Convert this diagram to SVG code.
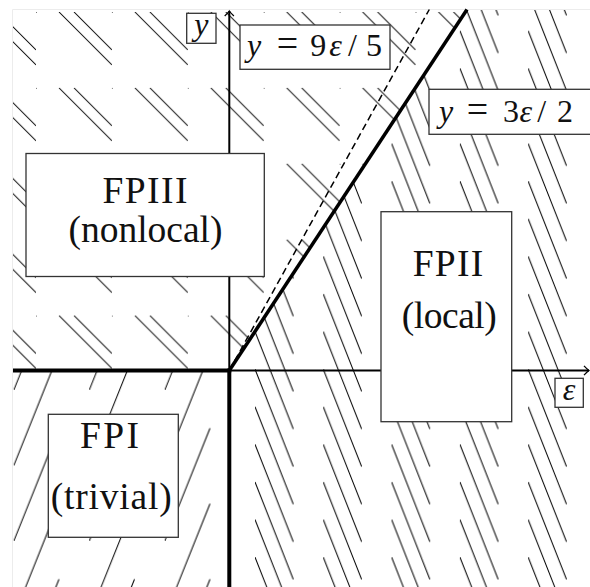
<svg xmlns="http://www.w3.org/2000/svg" width="590" height="587" viewBox="0 0 590 587">
<style>
.hl{stroke:#000;stroke-width:1;fill:none}
.box{fill:#fff;stroke:#333;stroke-width:1.3}
.lbl{font-family:'Liberation Serif','Times New Roman',serif;font-size:37.5px;fill:#111;text-anchor:middle}
.math{font-family:'Liberation Serif','Times New Roman',serif;font-size:32px;fill:#111;text-anchor:middle}
.it{font-style:italic}
.eq{font-size:38px}
.thin{stroke:#000;stroke-width:2;fill:none}
.thick{stroke:#000;stroke-width:4;fill:none}
</style>
<defs>
<pattern id="p1" patternUnits="userSpaceOnUse" x="36" y="12" width="75.9" height="75.9">
<path class="hl" d="M23,0 L75.9,52.9 M38,0 L75.9,37.9"/>
<rect x="0" y="0" width="1" height="1" fill="#777"/>
</pattern>
<pattern id="p2" patternUnits="userSpaceOnUse" x="13.8" y="314.5" width="75.5" height="75.5">
<path class="hl" d="M0,75.5 L45.2,-37.2 M0,151 L45.2,38.3"/>
</pattern>
<pattern id="p3" patternUnits="userSpaceOnUse" x="255" y="406.7" width="68.3" height="37.6">
<path class="hl" d="M0,0 L38.3,97.5 M0,-37.6 L38.3,59.9 M0,-75.2 L38.3,22.3"/>
</pattern>
<marker id="arr" markerUnits="userSpaceOnUse" markerWidth="12" markerHeight="12" viewBox="-8 -6 12 12" refX="0" refY="0" orient="auto" overflow="visible">
<path d="M-5,-4.6 Q-1.8,-1.2 0,0 Q-1.8,1.2 -5,4.6" fill="none" stroke="#000" stroke-width="1.3"/>
</marker>
</defs>
<g id="regions">
<path fill="url(#p1)" d="M13,9.5 H467 L229.3,370.5 H13 Z"/>
<path fill="url(#p3)" d="M467,9.5 H590 V587 H229.3 V370.5 Z"/>
<path fill="url(#p2)" d="M13,370.5 H229.3 V587 H13 Z"/>
<path d="M12.5,587 V9.5 H590" stroke="#ececec" stroke-width="1" fill="none"/>
</g>
<g id="connectors">
<path class="thin" d="M229.3,370.5 V11" marker-end="url(#arr)"/>
<path class="thin" d="M229.3,370.5 H589" marker-end="url(#arr)"/>
<path class="thick" d="M13,370.5 H231.3"/>
<path class="thick" d="M229.3,368.5 V587"/>
<path d="M229.3,370.5 L467,9.5" stroke="#000" stroke-width="3.5" fill="none"/>
<path d="M229.3,370.5 L429.3,9.5" stroke="#000" stroke-width="1.5" stroke-dasharray="7 4" fill="none"/>
</g>
<g id="fpiii">
<rect class="box" x="26" y="153.5" width="238.3" height="123"/>
<text class="lbl" x="145" y="202.7" textLength="85">FPIII</text>
<text class="lbl" x="145.5" y="241.7" textLength="154">(nonlocal)</text>
</g>
<g id="fpii">
<rect class="box" x="381" y="211.7" width="130.7" height="210"/>
<text class="lbl" x="448" y="276" textLength="70.7">FPII</text>
<text class="lbl" x="449.3" y="328.3" textLength="95">(local)</text>
</g>
<g id="fpi">
<rect class="box" x="48.3" y="414.3" width="130" height="123"/>
<text class="lbl" x="109.5" y="448.3" textLength="59">FPI</text>
<text class="lbl" x="111.2" y="509.3" textLength="121">(trivial)</text>
</g>
<g id="label-y">
<rect class="box" x="186.7" y="13.3" width="29.3" height="30"/>
<text class="math it" x="201.3" y="35">y</text>
</g>
<g id="label-95">
<rect class="box" x="240" y="25" width="150" height="44.3"/>
<text class="math" y="56"><tspan class="it" x="254">y</tspan><tspan class="eq" x="287.5">=</tspan><tspan x="318.3">9</tspan><tspan class="it" x="335.5">ε</tspan><tspan x="352.5">/</tspan><tspan x="374">5</tspan></text>
</g>
<g id="label-32">
<rect class="box" x="429" y="89.3" width="165" height="45"/>
<text class="math" y="121.7"><tspan class="it" x="446">y</tspan><tspan class="eq" x="477.5">=</tspan><tspan x="511">3</tspan><tspan class="it" x="525.7">ε</tspan><tspan x="541.7">/</tspan><tspan x="565">2</tspan></text>
</g>
<g id="label-eps">
<rect class="box" x="555" y="378.3" width="28.3" height="29"/>
<text class="math it" x="569" y="400">ε</text>
</g>
</svg>
